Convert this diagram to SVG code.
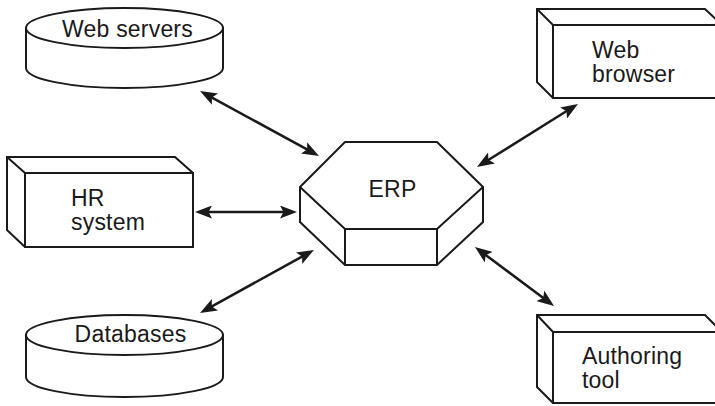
<svg xmlns="http://www.w3.org/2000/svg" width="715" height="406" viewBox="0 0 715 406">
  <style>
    .shape { fill: #ffffff; stroke: #1a1a1a; stroke-width: 2; stroke-linejoin: miter; }
    .edge { fill: none; stroke: #1a1a1a; stroke-width: 2; stroke-linejoin: miter; }
    .label { font-family: "Liberation Sans", Arial, sans-serif; font-size: 23px; fill: #1a1a1a; letter-spacing: 0.2px; }
    .mid { text-anchor: middle; }
    .link { stroke: #1a1a1a; stroke-width: 2.5; fill: none; marker-start: url(#head); marker-end: url(#head); }
  </style>
  <defs>
    <!-- arrowhead: tip sits 10 units beyond the line end -->
    <marker id="head" viewBox="0 0 17 13" refX="7" refY="6.5" markerWidth="17" markerHeight="13" markerUnits="userSpaceOnUse" orient="auto-start-reverse">
      <path d="M0,0 L17,6.5 L0,13 L3.5,6.5 z" fill="#1a1a1a"/>
    </marker>
  </defs>

  <!-- connectors -->
  <g id="connectors">
    <line class="link" x1="208.8" y1="95.8" x2="310.2" y2="151.2"/>
    <line class="link" x1="485.5" y1="161.7" x2="569.5" y2="109.3"/>
    <line class="link" x1="205" y1="212" x2="287" y2="212"/>
    <line class="link" x1="208.8" y1="308.2" x2="305.2" y2="254.8"/>
    <line class="link" x1="483" y1="253" x2="546" y2="300"/>
  </g>

  <!-- Web servers: cylinder -->
  <g id="web-servers">
    <path class="shape" d="M26,28 V68 A98.5,20 0 0 0 223,68 V28 z"/>
    <ellipse class="shape" cx="124.5" cy="28" rx="98.5" ry="20"/>
    <text class="label mid" x="127.5" y="37">Web servers</text>
  </g>

  <!-- HR system: box -->
  <g id="hr-system">
    <path class="shape" d="M7,157 H175 L193,173 V247 H25 L7,230 z"/>
    <rect class="shape" x="25" y="173" width="168" height="74"/>
    <path class="edge" d="M7,157 L25,173"/>
    <text class="label" x="71" y="206">HR<tspan x="71" y="230">system</tspan></text>
  </g>

  <!-- Databases: cylinder -->
  <g id="databases">
    <path class="shape" d="M26,335 V377 A98.5,20 0 0 0 223,377 V335 z"/>
    <ellipse class="shape" cx="124.5" cy="335" rx="98.5" ry="20"/>
    <text class="label mid" x="130.5" y="342">Databases</text>
  </g>

  <!-- ERP: hexagonal prism -->
  <g id="erp">
    <path class="shape" d="M345,142 H437 L483,187 V222 L437,265 H345 L300,222 V187 z"/>
    <path class="edge" d="M300,187 L345,229 H437 L483,187 M345,229 V265 M437,229 V265"/>
    <text class="label mid" x="392.5" y="197">ERP</text>
  </g>

  <!-- Web browser: box -->
  <g id="web-browser">
    <path class="shape" d="M537,9 H705 L722,25 V98 H553 L537,82 z"/>
    <rect class="shape" x="553" y="25" width="180" height="73"/>
    <path class="edge" d="M537,9 L553,25"/>
    <text class="label" x="592" y="58">Web<tspan x="592" y="82">browser</tspan></text>
  </g>

  <!-- Authoring tool: box -->
  <g id="authoring-tool">
    <path class="shape" d="M537,315 H705 L722,332 V403 H553 L537,387 z"/>
    <rect class="shape" x="553" y="332" width="180" height="71"/>
    <path class="edge" d="M537,315 L553,332"/>
    <text class="label" x="582" y="364">Authoring<tspan x="582" y="388">tool</tspan></text>
  </g>
</svg>
